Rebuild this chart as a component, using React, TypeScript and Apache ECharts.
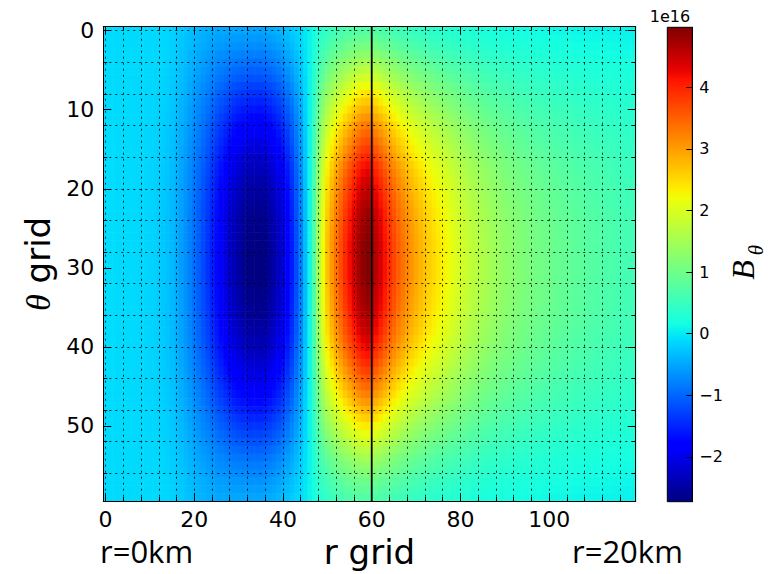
import React, { useEffect, useRef } from 'react';
import * as echarts from 'echarts';

// B_theta (in units of 1e16) along r on the middle theta rows (theta ~ 28-31)
const midProfile = [
  -0.1, -0.1, -0.1, -0.11, -0.11, -0.12, -0.12, -0.13, -0.14, -0.15,
  -0.17, -0.19, -0.22, -0.26, -0.31, -0.37, -0.46, -0.56, -0.67, -0.8,
  -0.93, -1.07, -1.22, -1.38, -1.55, -1.72, -1.9, -2.07, -2.23, -2.38,
  -2.5, -2.6, -2.67, -2.71, -2.73, -2.71, -2.66, -2.58, -2.46, -2.31,
  -2.11, -1.86, -1.56, -1.2, -0.8, -0.35, 0.1, 0.75, 1.5, 2.2,
  2.7, 3.05, 3.35, 3.65, 3.95, 4.2, 4.45, 4.7, 4.88, 4.97,
  4.85, 4.62, 4.38, 4.15, 3.93, 3.72, 3.53, 3.36, 3.2, 3.06,
  2.93, 2.81, 2.7, 2.6, 2.5, 2.41, 2.32, 2.24, 2.12, 2.03,
  1.95, 1.87, 1.79, 1.72, 1.66, 1.6, 1.54, 1.48, 1.42, 1.37,
  1.32, 1.28, 1.24, 1.2, 1.16, 1.12, 1.09, 1.06, 1.03, 1.0,
  0.97, 0.95, 0.92, 0.9, 0.87, 0.85, 0.83, 0.81, 0.79, 0.77,
  0.75, 0.73, 0.71, 0.69, 0.67, 0.65, 0.63, 0.61, 0.6, 0.58,
];

// B_theta along r on the outermost theta rows (theta = 0 and 59)
const edgeProfile = [
  -0.12, -0.12, -0.12, -0.12, -0.12, -0.12, -0.12, -0.12, -0.12, -0.12,
  -0.12, -0.12, -0.12, -0.12, -0.14, -0.17, -0.2, -0.23, -0.26, -0.3,
  -0.33, -0.36, -0.39, -0.41, -0.43, -0.45, -0.45, -0.45, -0.45, -0.45,
  -0.45, -0.45, -0.45, -0.45, -0.45, -0.45, -0.43, -0.41, -0.38, -0.34,
  -0.3, -0.25, -0.2, -0.14, -0.08, 0.0, 0.08, 0.16, 0.24, 0.32,
  0.38, 0.44, 0.49, 0.53, 0.56, 0.58, 0.6, 0.6, 0.6, 0.6,
  0.6, 0.58, 0.56, 0.54, 0.52, 0.5, 0.47, 0.45, 0.42, 0.4,
  0.38, 0.36, 0.34, 0.32, 0.3, 0.28, 0.27, 0.26, 0.25, 0.24,
  0.23, 0.22, 0.21, 0.2, 0.19, 0.18, 0.17, 0.16, 0.16, 0.15,
  0.15, 0.14, 0.14, 0.13, 0.13, 0.12, 0.12, 0.11, 0.11, 0.1,
  0.1, 0.1, 0.09, 0.09, 0.09, 0.08, 0.08, 0.08, 0.07, 0.07,
  0.07, 0.07, 0.06, 0.06, 0.06, 0.06, 0.05, 0.05, 0.05, 0.05,
];

// Strength of the perturbation across theta rows 0..59 (1 = middle rows)
const thetaEnvelope = [
  0.03, 0.07, 0.11, 0.16, 0.21, 0.26, 0.31, 0.37, 0.42, 0.47,
  0.52, 0.57, 0.62, 0.66, 0.7, 0.74, 0.78, 0.82, 0.85, 0.88,
  0.9, 0.92, 0.94, 0.96, 0.97, 0.98, 0.99, 1.0, 1.0, 1.0,
  1.0, 1.0, 0.99, 0.98, 0.97, 0.96, 0.94, 0.92, 0.9, 0.87,
  0.84, 0.81, 0.77, 0.73, 0.69, 0.65, 0.61, 0.56, 0.51, 0.46,
  0.41, 0.36, 0.31, 0.26, 0.21, 0.17, 0.13, 0.09, 0.06, 0.03,
];

const rTickLabels = [0, 20, 40, 60, 80, 100];
const thetaTickLabels = [0, 10, 20, 30, 40, 50];
const rGridLines = [0, 4, 8, 12, 16, 20, 24, 28, 32, 36, 40, 44, 48, 52, 56, 60, 64, 68, 72, 76, 80, 84, 88, 92, 96, 100, 104, 108, 112, 116];
const thetaGridLines = [0, 4, 8, 12, 16, 20, 24, 28, 32, 36, 40, 44, 48, 52, 56];
const colorbarTicks = [-2, -1, 0, 1, 2, 3, 4];
const colorMin = -2.73;
const colorMax = 4.975;
const markerR = 60;

// matplotlib "jet" colormap
const JET_R = [[0, 0], [0.35, 0], [0.66, 1], [0.89, 1], [1, 0.5]];
const JET_G = [[0, 0], [0.125, 0], [0.375, 1], [0.64, 1], [0.91, 0], [1, 0]];
const JET_B = [[0, 0.5], [0.11, 1], [0.34, 1], [0.65, 0], [1, 0]];

function segment(points: number[][], t: number): number {
  for (let i = 1; i < points.length; i++) {
    const [x0, y0] = points[i - 1];
    const [x1, y1] = points[i];
    if (t <= x1) return y0 + ((y1 - y0) * (t - x0)) / (x1 - x0);
  }
  return points[points.length - 1][1];
}

function jet(t: number): string {
  const c = (p: number[][]) => Math.round(255 * segment(p, t));
  return `rgb(${c(JET_R)},${c(JET_G)},${c(JET_B)})`;
}

const jetStops = Array.from({ length: 65 }, (_, i) => i / 64);
const jetColors = jetStops.map(jet);

const AXIS_FONT = 'DejaVu Sans';
const black = { color: '#000', width: 1 };

export default function App() {
  const ref = useRef<HTMLDivElement>(null);

  useEffect(() => {
    if (!ref.current) return;
    const chart = echarts.init(ref.current, undefined, { renderer: 'svg' });

    const cells: number[][] = [];
    thetaEnvelope.forEach((env, t) => {
      midProfile.forEach((mid, r) => {
        const edge = edgeProfile[r];
        cells.push([r, t, edge + (mid - edge) * env]);
      });
    });

    const rBase = { type: 'value', gridIndex: 0, min: -0.5, max: 119.5, z: 10 };
    const tBase = { type: 'value', gridIndex: 0, min: -0.5, max: 59.5, inverse: true, z: 10 };
    const dotted = { show: true, lineStyle: { color: '#000', width: 1, type: [2, 4], opacity: 0.8 } };
    const noLabel = { show: false };
    const noSplit = { show: false };

    const option: any = {
      animation: false,
      backgroundColor: '#fff',
      grid: [
        { left: 103.3, top: 26.7, width: 532.4, height: 475.3 },
        { left: 667.3, top: 27.3, width: 25, height: 474.4 },
      ],
      xAxis: [
        {
          ...rBase,
          position: 'bottom',
          axisLine: { show: true, onZero: false, lineStyle: black },
          axisTick: { show: true, inside: true, length: 4, customValues: rGridLines, lineStyle: black },
          axisLabel: { show: true, customValues: rTickLabels, fontSize: 22, fontFamily: AXIS_FONT, color: '#000', margin: 7 },
          splitLine: dotted,
          name: 'r grid',
          nameLocation: 'middle',
          nameGap: 34,
          nameTextStyle: { fontSize: 34, fontFamily: AXIS_FONT, color: '#000' },
        },
        {
          ...rBase,
          position: 'bottom',
          axisLine: { show: false, onZero: false },
          axisTick: { show: true, inside: true, length: 8, customValues: rTickLabels, lineStyle: black },
          axisLabel: noLabel,
          splitLine: noSplit,
        },
        {
          ...rBase,
          position: 'top',
          axisLine: { show: true, onZero: false, lineStyle: black },
          axisTick: { show: true, inside: true, length: 4, customValues: rGridLines, lineStyle: black },
          axisLabel: noLabel,
          splitLine: noSplit,
        },
        {
          ...rBase,
          position: 'top',
          axisLine: { show: false, onZero: false },
          axisTick: { show: true, inside: true, length: 8, customValues: rTickLabels, lineStyle: black },
          axisLabel: noLabel,
          splitLine: noSplit,
        },
        { type: 'value', gridIndex: 1, min: 0, max: 1, show: false },
      ],
      yAxis: [
        {
          ...tBase,
          position: 'left',
          axisLine: { show: true, onZero: false, lineStyle: black },
          axisTick: { show: true, inside: true, length: 4, customValues: thetaGridLines, lineStyle: black },
          axisLabel: { show: true, customValues: thetaTickLabels, fontSize: 22, fontFamily: AXIS_FONT, color: '#000', margin: 9 },
          splitLine: dotted,
          name: '{th|θ} grid',
          nameLocation: 'middle',
          nameGap: 47,
          nameRotate: 90,
          nameTextStyle: {
            fontSize: 34,
            fontFamily: AXIS_FONT,
            color: '#000',
            rich: { th: { fontSize: 34, fontFamily: 'Liberation Serif', fontStyle: 'italic', color: '#000' } },
          },
        },
        {
          ...tBase,
          position: 'left',
          axisLine: { show: false, onZero: false },
          axisTick: { show: true, inside: true, length: 8, customValues: thetaTickLabels, lineStyle: black },
          axisLabel: noLabel,
          splitLine: noSplit,
        },
        {
          ...tBase,
          position: 'right',
          axisLine: { show: true, onZero: false, lineStyle: black },
          axisTick: { show: true, inside: true, length: 4, customValues: thetaGridLines, lineStyle: black },
          axisLabel: noLabel,
          splitLine: noSplit,
        },
        {
          ...tBase,
          position: 'right',
          axisLine: { show: false, onZero: false },
          axisTick: { show: true, inside: true, length: 8, customValues: thetaTickLabels, lineStyle: black },
          axisLabel: noLabel,
          splitLine: noSplit,
        },
        {
          type: 'value',
          gridIndex: 1,
          position: 'right',
          min: colorMin,
          max: colorMax,
          z: 10,
          axisLine: { show: true, onZero: false, lineStyle: black },
          axisTick: { show: true, inside: true, length: 6, customValues: colorbarTicks, lineStyle: black },
          axisLabel: {
            show: true,
            customValues: colorbarTicks,
            fontSize: 16,
            fontFamily: AXIS_FONT,
            color: '#000',
            margin: 7,
            formatter: (v: number) => (v < 0 ? '\u2212' + Math.abs(v) : String(v)),
          },
          splitLine: noSplit,
        },
      ],
      visualMap: [
        {
          type: 'continuous',
          show: false,
          seriesIndex: 0,
          dimension: 2,
          min: colorMin,
          max: colorMax,
          inRange: { color: jetColors },
        },
      ],
      series: [
        {
          type: 'custom',
          xAxisIndex: 0,
          yAxisIndex: 0,
          clip: true,
          encode: { x: 0, y: 1 },
          data: cells,
          renderItem: (params: any, api: any) => {
            const r = api.value(0);
            const t = api.value(1);
            const p0 = api.coord([r - 0.5, t - 0.5]);
            const p1 = api.coord([r + 0.5, t + 0.5]);
            const x = Math.min(p0[0], p1[0]);
            const y = Math.min(p0[1], p1[1]);
            return {
              type: 'rect',
              shape: { x, y, width: Math.abs(p1[0] - p0[0]) + 0.6, height: Math.abs(p1[1] - p0[1]) + 0.6 },
              style: { fill: api.visual('color') },
            };
          },
        },
        {
          type: 'line',
          xAxisIndex: 0,
          yAxisIndex: 0,
          symbol: 'none',
          silent: true,
          data: [
            [markerR, -0.5],
            [markerR, 59.5],
          ],
          lineStyle: { color: '#000', width: 1.8 },
        },
        {
          type: 'custom',
          xAxisIndex: 4,
          yAxisIndex: 4,
          silent: true,
          data: [[0, colorMin]],
          renderItem: (params: any, api: any) => {
            const top = api.coord([0, colorMax]);
            const bottom = api.coord([1, colorMin]);
            const stops = jetStops
              .map((s, i) => ({ offset: 1 - s, color: jetColors[i] }))
              .reverse();
            return {
              type: 'rect',
              shape: { x: top[0], y: top[1], width: bottom[0] - top[0], height: bottom[1] - top[1] },
              style: {
                fill: new echarts.graphic.LinearGradient(0, 0, 0, 1, stops),
                stroke: '#000',
                lineWidth: 1,
              },
            };
          },
        },
      ],
      graphic: [
        {
          type: 'text',
          x: 670,
          y: 16,
          style: { text: '1e16', fontSize: 16, fontFamily: AXIS_FONT, fill: '#000', align: 'center', verticalAlign: 'middle' },
        },
        {
          type: 'text',
          x: 743,
          y: 270,
          rotation: Math.PI / 2,
          style: { text: 'B', fontSize: 32, fontFamily: 'Liberation Serif', fontStyle: 'italic', fill: '#000', align: 'center', verticalAlign: 'middle' },
        },
        {
          type: 'text',
          x: 756,
          y: 250,
          rotation: Math.PI / 2,
          style: { text: 'θ', fontSize: 21, fontFamily: 'Liberation Serif', fontStyle: 'italic', fill: '#000', align: 'center', verticalAlign: 'middle' },
        },
        {
          type: 'text',
          x: 100,
          y: 551,
          style: { text: 'r=0km', fontSize: 31, fontFamily: 'Open Sans', fill: '#000', align: 'left', verticalAlign: 'middle' },
        },
        {
          type: 'text',
          x: 572,
          y: 551,
          style: { text: 'r=20km', fontSize: 31, fontFamily: 'Open Sans', fill: '#000', align: 'left', verticalAlign: 'middle' },
        },
      ],
    };

    chart.setOption(option);
    return () => chart.dispose();
  }, []);

  return (
    <div
      ref={ref}
      style={{ position: 'absolute', left: 0, top: 0, width: 768, height: 574, background: '#fff' }}
    />
  );
}
